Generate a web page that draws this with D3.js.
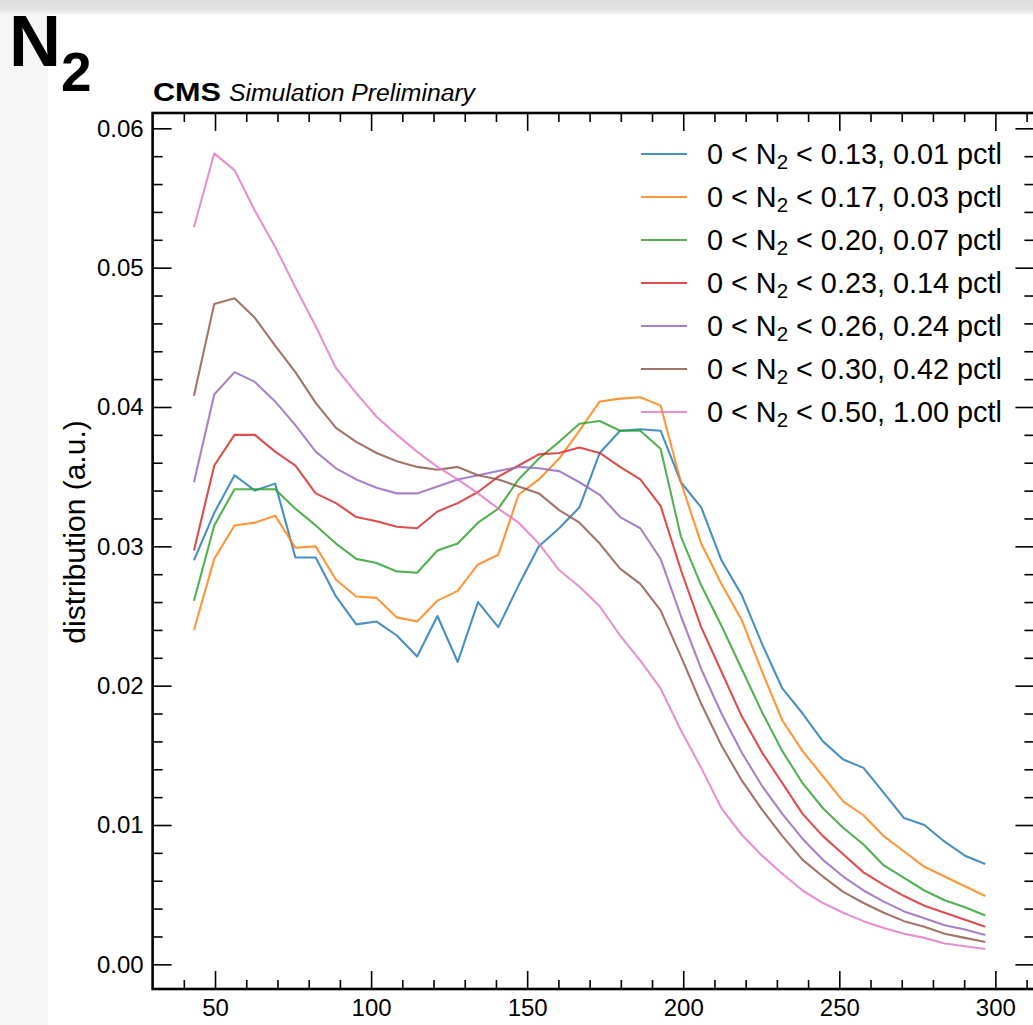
<!DOCTYPE html>
<meta charset="utf-8" />
<script src="https://d3js.org/d3.v7.min.js"></script>
<style>
  body { margin: 0; background: #fff; }
  svg { display: block; font-family: "Liberation Sans", Arial, Helvetica, sans-serif; }
</style>
<div id="chart"></div>
<script>
  // bin centres of the jet mass histogram (GeV)
  const binCenters = [43.25, 49.75, 56.25, 62.75, 69.25, 75.75, 82.25, 88.75, 95.25, 101.75,
    108.25, 114.75, 121.25, 127.75, 134.25, 140.75, 147.25, 153.75, 160.25, 166.75,
    173.25, 179.75, 186.25, 192.75, 199.25, 205.75, 212.25, 218.75, 225.25, 231.75,
    238.25, 244.75, 251.25, 257.75, 264.25, 270.75, 277.25, 283.75, 290.25, 296.75];

  // one array per N2 cut
  const cut013 = [0.0290, 0.0324, 0.0351, 0.0340, 0.0345, 0.0292, 0.0292, 0.0264, 0.0244, 0.0246,
    0.0236, 0.0221, 0.0250, 0.0217, 0.0260, 0.0242, 0.0272, 0.0300, 0.0313, 0.0328,
    0.0367, 0.0383, 0.0384, 0.0383, 0.0346, 0.0328, 0.0290, 0.0265, 0.0230, 0.0198,
    0.0180, 0.0160, 0.0147, 0.0141, 0.0123, 0.0105, 0.0100, 0.0088, 0.0078, 0.0072];
  const cut017 = [0.0240, 0.0291, 0.0315, 0.0317, 0.0322, 0.0299, 0.0300, 0.0276, 0.0264, 0.0263,
    0.0249, 0.0246, 0.0261, 0.0268, 0.0287, 0.0294, 0.0337, 0.0348, 0.0363, 0.0383,
    0.0404, 0.0406, 0.0407, 0.0401, 0.0346, 0.0302, 0.0273, 0.0247, 0.0210, 0.0175,
    0.0153, 0.0135, 0.0117, 0.0107, 0.0092, 0.0081, 0.0070, 0.0063, 0.0056, 0.0049];
  const cut020 = [0.0261, 0.0315, 0.0341, 0.0341, 0.0341, 0.0327, 0.0315, 0.0302, 0.0291, 0.0288,
    0.0282, 0.0281, 0.0297, 0.0302, 0.0317, 0.0327, 0.0348, 0.0363, 0.0375, 0.0388,
    0.0390, 0.0383, 0.0383, 0.0370, 0.0307, 0.0272, 0.0243, 0.0212, 0.0181, 0.0153,
    0.0130, 0.0112, 0.0098, 0.0086, 0.0071, 0.0062, 0.0053, 0.0046, 0.0041, 0.0035];
  const cut023 = [0.0297, 0.0358, 0.0380, 0.0380, 0.0368, 0.0358, 0.0338, 0.0331, 0.0321, 0.0318,
    0.0314, 0.0313, 0.0325, 0.0331, 0.0339, 0.0350, 0.0358, 0.0366, 0.0367, 0.0371,
    0.0367, 0.0357, 0.0348, 0.0329, 0.0283, 0.0242, 0.0210, 0.0178, 0.0152, 0.0130,
    0.0108, 0.0092, 0.0079, 0.0066, 0.0057, 0.0049, 0.0042, 0.0037, 0.0032, 0.0027];
  const cut026 = [0.0346, 0.0409, 0.0425, 0.0418, 0.0404, 0.0387, 0.0368, 0.0356, 0.0348, 0.0342,
    0.0338, 0.0338, 0.0343, 0.0348, 0.0351, 0.0354, 0.0357, 0.0356, 0.0354, 0.0346,
    0.0337, 0.0321, 0.0313, 0.0291, 0.0250, 0.0212, 0.0180, 0.0152, 0.0128, 0.0108,
    0.0090, 0.0075, 0.0063, 0.0053, 0.0045, 0.0038, 0.0033, 0.0028, 0.0025, 0.0021];
  const cut030 = [0.0408, 0.0474, 0.0478, 0.0464, 0.0444, 0.0425, 0.0403, 0.0385, 0.0375, 0.0367,
    0.0361, 0.0357, 0.0355, 0.0357, 0.0351, 0.0348, 0.0343, 0.0338, 0.0326, 0.0317,
    0.0302, 0.0284, 0.0273, 0.0254, 0.0221, 0.0187, 0.0157, 0.0132, 0.0111, 0.0092,
    0.0075, 0.0063, 0.0052, 0.0044, 0.0037, 0.0031, 0.0027, 0.0022, 0.0019, 0.0016];
  const cut050 = [0.0529, 0.0582, 0.0570, 0.0541, 0.0515, 0.0486, 0.0458, 0.0428, 0.0410, 0.0393,
    0.0380, 0.0368, 0.0357, 0.0348, 0.0338, 0.0327, 0.0317, 0.0302, 0.0283, 0.0271,
    0.0257, 0.0236, 0.0218, 0.0198, 0.0168, 0.0141, 0.0112, 0.0093, 0.0078, 0.0065,
    0.0053, 0.0044, 0.0037, 0.0031, 0.0026, 0.0022, 0.0019, 0.0015, 0.0013, 0.0011];

  const cutValues = ["0.13", "0.17", "0.20", "0.23", "0.26", "0.30", "0.50"];
  const pctlValues = ["0.01", "0.03", "0.07", "0.14", "0.24", "0.42", "1.00"];
  const colors = ["#1f77b4", "#ff7f0e", "#2ca02c", "#d62728", "#9467bd", "#8c564b", "#e377c2"];

  const xMajor = [50, 100, 150, 200, 250, 300];
  const yMajor = [0, 0.01, 0.02, 0.03, 0.04, 0.05, 0.06];

  const series = [cut013, cut017, cut020, cut023, cut026, cut030, cut050];

  const W = 1033, H = 1025;
  const svg = d3.select("#chart").append("svg")
    .attr("width", W).attr("height", H);

  // slide background bits (grey top bar, faint left strip)
  const defs = svg.append("defs");
  const grad = defs.append("linearGradient").attr("id", "topbar")
    .attr("x1", 0).attr("y1", 0).attr("x2", 0).attr("y2", 1);
  grad.append("stop").attr("offset", "0%").attr("stop-color", "#dcdcdc");
  grad.append("stop").attr("offset", "70%").attr("stop-color", "#e4e4e4");
  grad.append("stop").attr("offset", "100%").attr("stop-color", "#f4f4f4");
  svg.append("rect").attr("x", 0).attr("y", 0).attr("width", W).attr("height", H).attr("fill", "#fff");
  svg.append("rect").attr("x", 0).attr("y", 12).attr("width", 48).attr("height", H - 12).attr("fill", "#f6f6f6");
  svg.append("rect").attr("x", 0).attr("y", 0).attr("width", W).attr("height", 14).attr("fill", "url(#topbar)");

  // big title N2
  const title = svg.append("text").attr("x", 9).attr("y", 66)
    .attr("font-size", 72).attr("font-weight", "bold").attr("fill", "#000");
  title.append("tspan").text("N");
  title.append("tspan").attr("font-size", 55).attr("dy", 25).text("2");

  // plot frame
  const frameL = 152.6, frameR = 1034.4, frameT = 113, frameB = 989;
  const x = d3.scaleLinear().domain([30, 312.5]).range([frameL, frameR]);
  const y = d3.scaleLinear().domain([-0.00177, 0.0611]).range([frameB, frameT]);

  const xMinor = d3.range(40, 311, 10).filter(v => v % 50 !== 0);
  const yMinor = d3.range(0, 0.0611, 0.002).filter(v => Math.abs(v * 100 - Math.round(v * 100)) > 1e-6);

  const tickStyle = g => {
    g.select(".domain").remove();
    g.selectAll(".tick line").attr("stroke", "#000").attr("stroke-width", 1.6);
    g.selectAll("text").attr("fill", "#000").attr("font-size", 24)
      .attr("font-family", "'Liberation Sans', Arial, sans-serif");
  };

  // bottom
  svg.append("g").attr("transform", `translate(0,${frameB})`)
    .call(d3.axisBottom(x).tickValues(xMajor).tickSize(-18).tickPadding(10).tickFormat(d3.format("d")))
    .call(tickStyle);
  svg.append("g").attr("transform", `translate(0,${frameB})`)
    .call(d3.axisBottom(x).tickValues(xMinor).tickSize(-9).tickFormat(""))
    .call(tickStyle);
  // top
  svg.append("g").attr("transform", `translate(0,${frameT})`)
    .call(d3.axisTop(x).tickValues(xMajor).tickSize(-18).tickFormat(""))
    .call(tickStyle);
  svg.append("g").attr("transform", `translate(0,${frameT})`)
    .call(d3.axisTop(x).tickValues(xMinor).tickSize(-9).tickFormat(""))
    .call(tickStyle);
  // left
  svg.append("g").attr("transform", `translate(${frameL},0)`)
    .call(d3.axisLeft(y).tickValues(yMajor).tickSize(-19).tickPadding(9).tickFormat(d3.format(".2f")))
    .call(tickStyle);
  svg.append("g").attr("transform", `translate(${frameL},0)`)
    .call(d3.axisLeft(y).tickValues(yMinor).tickSize(-10).tickFormat(""))
    .call(tickStyle);
  // right
  svg.append("g").attr("transform", `translate(${frameR},0)`)
    .call(d3.axisRight(y).tickValues(yMajor).tickSize(-19).tickFormat(""))
    .call(tickStyle);
  svg.append("g").attr("transform", `translate(${frameR},0)`)
    .call(d3.axisRight(y).tickValues(yMinor).tickSize(-10).tickFormat(""))
    .call(tickStyle);

  svg.append("rect").attr("x", frameL).attr("y", frameT)
    .attr("width", frameR - frameL).attr("height", frameB - frameT)
    .attr("fill", "none").attr("stroke", "#000").attr("stroke-width", 2.6);

  // curves
  const line = d3.line().x((d, i) => x(binCenters[i])).y(d => y(d));
  svg.append("g").selectAll("path").data(series).join("path")
    .attr("d", line)
    .attr("fill", "none")
    .attr("stroke", (d, i) => colors[i])
    .attr("stroke-width", 2.1)
    .attr("stroke-opacity", 0.82)
    .attr("stroke-linejoin", "round");

  // CMS label
  svg.append("text").attr("x", 153).attr("y", 101)
    .attr("font-size", 26).attr("font-weight", "bold")
    .attr("textLength", 68).attr("lengthAdjust", "spacingAndGlyphs")
    .text("CMS");
  svg.append("text").attr("x", 229).attr("y", 101)
    .attr("font-size", 23).attr("font-style", "italic")
    .attr("textLength", 246).attr("lengthAdjust", "spacingAndGlyphs")
    .text("Simulation Preliminary");

  // y label
  svg.append("text")
    .attr("transform", "translate(85,532) rotate(-90)")
    .attr("text-anchor", "middle")
    .attr("font-size", 30)
    .text("distribution (a.u.)");

  // legend
  const legend = svg.append("g");
  cutValues.forEach((c, i) => {
    const ly = 154 + i * 43;
    legend.append("line").attr("x1", 641).attr("x2", 687).attr("y1", ly).attr("y2", ly)
      .attr("stroke", colors[i]).attr("stroke-width", 2.1).attr("stroke-opacity", 0.82);
    const t = legend.append("text").attr("x", 707).attr("y", ly + 10).attr("font-size", 28.8);
    t.append("tspan").text("0 < N");
    t.append("tspan").attr("font-size", 20.5).attr("dy", 5).text("2");
    t.append("tspan").attr("dy", -5).text(` < ${c}, ${pctlValues[i]} pctl`);
  });
</script>
